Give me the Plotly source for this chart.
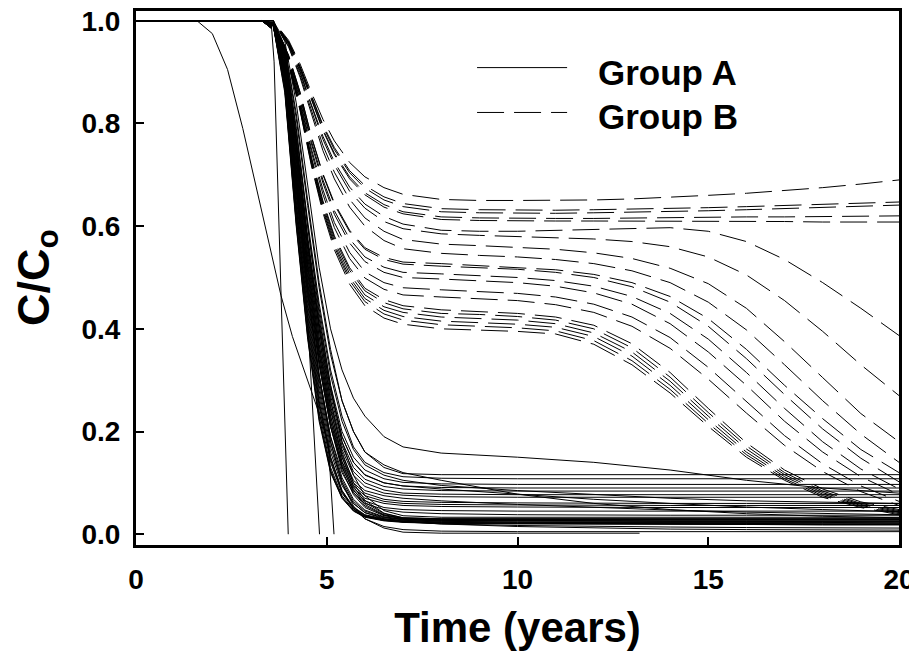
import plotly.graph_objects as go

# time grids (years)
t_a = [0, 2.5, 3.3, 3.6, 3.9, 4.2, 4.5, 4.8, 5.1, 5.4, 5.7, 6.0, 6.5, 7.0, 8, 10, 12, 14, 16, 18, 20]
t_b = [0, 3.3, 3.7, 4.0, 4.3, 4.6, 4.9, 5.2, 5.6, 6.0, 6.5, 7.0, 8, 9, 10, 11, 12, 13, 14, 15, 16, 17, 18, 19, 20]

# Group A breakthrough curves (C/Co), one row per run, on t_a
group_a = [
    [1, 1, 1, 0.99, 0.86, 0.60, 0.38, 0.22, 0.12, 0.07, 0.045, 0.033, 0.026, 0.023, 0.021, 0.02, 0.02, 0.019, 0.019, 0.018, 0.018],
    [1, 1, 1, 0.99, 0.87, 0.62, 0.40, 0.24, 0.13, 0.075, 0.048, 0.035, 0.028, 0.025, 0.023, 0.022, 0.022, 0.021, 0.021, 0.02, 0.02],
    [1, 1, 1, 0.99, 0.89, 0.65, 0.43, 0.26, 0.15, 0.085, 0.053, 0.038, 0.03, 0.027, 0.025, 0.024, 0.024, 0.023, 0.023, 0.023, 0.022],
    [1, 1, 1, 0.995, 0.90, 0.68, 0.46, 0.29, 0.17, 0.10, 0.06, 0.042, 0.032, 0.028, 0.026, 0.026, 0.025, 0.025, 0.025, 0.024, 0.024],
    [1, 1, 1, 0.995, 0.91, 0.70, 0.48, 0.31, 0.19, 0.11, 0.068, 0.047, 0.034, 0.029, 0.027, 0.027, 0.026, 0.026, 0.026, 0.026, 0.026],
    [1, 1, 1, 0.995, 0.92, 0.72, 0.51, 0.34, 0.21, 0.125, 0.077, 0.052, 0.036, 0.03, 0.028, 0.028, 0.028, 0.028, 0.028, 0.028, 0.028],
    [1, 1, 1, 1, 0.93, 0.75, 0.54, 0.37, 0.23, 0.14, 0.087, 0.058, 0.038, 0.031, 0.029, 0.029, 0.029, 0.029, 0.029, 0.029, 0.029],
    [1, 1, 1, 1, 0.94, 0.77, 0.57, 0.40, 0.26, 0.16, 0.10, 0.066, 0.041, 0.032, 0.03, 0.03, 0.03, 0.03, 0.03, 0.03, 0.03],
    [1, 1, 1, 0.99, 0.88, 0.63, 0.41, 0.25, 0.14, 0.08, 0.05, 0.036, 0.028, 0.024, 0.02, 0.017, 0.015, 0.014, 0.013, 0.012, 0.012],
    [1, 1, 1, 0.995, 0.90, 0.67, 0.45, 0.28, 0.16, 0.095, 0.06, 0.042, 0.03, 0.025, 0.02, 0.015, 0.012, 0.01, 0.009, 0.008, 0.008],
    [1, 1, 1, 0.99, 0.87, 0.61, 0.39, 0.23, 0.125, 0.072, 0.046, 0.034, 0.027, 0.024, 0.022, 0.021, 0.021, 0.02, 0.02, 0.02, 0.02],
    [1, 1, 1, 1, 0.95, 0.79, 0.60, 0.43, 0.29, 0.18, 0.115, 0.075, 0.046, 0.036, 0.033, 0.033, 0.033, 0.033, 0.033, 0.033, 0.033],
    [1, 1, 1, 0.995, 0.90, 0.66, 0.44, 0.27, 0.15, 0.085, 0.05, 0.03, 0.015, 0.009, 0.006, 0.005, 0.005, 0.005, 0.005, 0.005, 0.005],
    [1, 1, 1, 0.995, 0.905, 0.69, 0.47, 0.30, 0.18, 0.105, 0.064, 0.045, 0.033, 0.029, 0.027, 0.026, 0.026, 0.026, 0.025, 0.025, 0.025],
    [1, 1, 1, 0.995, 0.925, 0.735, 0.525, 0.355, 0.22, 0.132, 0.082, 0.055, 0.037, 0.031, 0.029, 0.028, 0.028, 0.028, 0.028, 0.028, 0.028],
    [1, 1, 1, 1, 0.935, 0.76, 0.555, 0.385, 0.245, 0.15, 0.093, 0.062, 0.04, 0.032, 0.03, 0.03, 0.03, 0.03, 0.03, 0.03, 0.03],
    [1, 1, 1, 0.99, 0.865, 0.605, 0.385, 0.225, 0.122, 0.071, 0.046, 0.034, 0.027, 0.024, 0.022, 0.021, 0.02, 0.02, 0.019, 0.019, 0.019],
    [1, 1, 1, 0.99, 0.88, 0.64, 0.42, 0.255, 0.145, 0.082, 0.052, 0.037, 0.029, 0.026, 0.024, 0.023, 0.023, 0.022, 0.022, 0.022, 0.022],
    [1, 1, 1, 1, 0.96, 0.84, 0.68, 0.52, 0.40, 0.32, 0.265, 0.23, 0.19, 0.17, 0.158, 0.15, 0.14, 0.125, 0.105, 0.09, 0.08],
    [1, 1, 1, 1, 0.95, 0.81, 0.64, 0.48, 0.35, 0.26, 0.20, 0.16, 0.13, 0.118, 0.116, 0.116, 0.116, 0.116, 0.116, 0.116, 0.116],
    [1, 1, 1, 0.995, 0.94, 0.79, 0.61, 0.45, 0.32, 0.23, 0.17, 0.14, 0.12, 0.112, 0.109, 0.108, 0.108, 0.108, 0.108, 0.108, 0.108],
    [1, 1, 1, 0.995, 0.93, 0.77, 0.58, 0.42, 0.29, 0.20, 0.15, 0.125, 0.108, 0.101, 0.098, 0.097, 0.097, 0.097, 0.097, 0.097, 0.097],
    [1, 1, 1, 0.995, 0.925, 0.76, 0.57, 0.41, 0.28, 0.19, 0.14, 0.116, 0.1, 0.094, 0.091, 0.09, 0.09, 0.09, 0.09, 0.09, 0.09],
    [1, 1, 1, 0.995, 0.92, 0.75, 0.56, 0.40, 0.27, 0.18, 0.13, 0.107, 0.093, 0.088, 0.085, 0.084, 0.084, 0.084, 0.084, 0.084, 0.084],
    [1, 1, 1, 0.995, 0.915, 0.74, 0.545, 0.385, 0.26, 0.172, 0.122, 0.1, 0.086, 0.08, 0.078, 0.077, 0.077, 0.077, 0.077, 0.077, 0.077],
    [1, 1, 1, 0.995, 0.91, 0.73, 0.53, 0.37, 0.25, 0.165, 0.115, 0.093, 0.08, 0.076, 0.073, 0.072, 0.072, 0.072, 0.072, 0.072, 0.072],
    [1, 1, 1, 0.99, 0.90, 0.71, 0.51, 0.35, 0.23, 0.15, 0.10, 0.08, 0.068, 0.064, 0.062, 0.061, 0.06, 0.06, 0.06, 0.06, 0.06],
    [1, 1, 1, 0.99, 0.895, 0.70, 0.50, 0.34, 0.22, 0.142, 0.095, 0.075, 0.064, 0.06, 0.058, 0.057, 0.056, 0.056, 0.056, 0.056, 0.056],
    [1, 1, 1, 0.99, 0.89, 0.69, 0.49, 0.33, 0.21, 0.135, 0.09, 0.07, 0.06, 0.056, 0.054, 0.053, 0.052, 0.052, 0.052, 0.052, 0.052],
    [1, 1, 1, 0.99, 0.89, 0.67, 0.47, 0.31, 0.19, 0.12, 0.08, 0.06, 0.048, 0.043, 0.04, 0.038, 0.037, 0.037, 0.037, 0.037, 0.037],
    [1, 1, 1, 0.99, 0.90, 0.69, 0.49, 0.33, 0.21, 0.13, 0.085, 0.065, 0.052, 0.048, 0.046, 0.045, 0.045, 0.045, 0.045, 0.045, 0.045],
    [1, 1, 1, 1, 0.95, 0.82, 0.65, 0.49, 0.36, 0.26, 0.20, 0.16, 0.135, 0.12, 0.105, 0.078, 0.06, 0.048, 0.04, 0.035, 0.032],
    [1, 1, 1, 0.995, 0.94, 0.78, 0.60, 0.44, 0.31, 0.22, 0.165, 0.135, 0.115, 0.105, 0.095, 0.085, 0.077, 0.07, 0.065, 0.062, 0.06],
    [1, 1, 1, 0.995, 0.93, 0.76, 0.57, 0.41, 0.28, 0.19, 0.14, 0.115, 0.10, 0.094, 0.088, 0.078, 0.068, 0.06, 0.053, 0.048, 0.044],
    [1, 1, 1, 0.99, 0.91, 0.72, 0.52, 0.36, 0.24, 0.155, 0.105, 0.085, 0.075, 0.07, 0.065, 0.058, 0.052, 0.047, 0.043, 0.04, 0.038],
]

# Group A runs that end early / on their own time steps
early_t = [0, 1.6, 2.0, 2.4, 2.8, 3.2, 3.5, 3.8, 4.1, 4.5, 4.8, 5.04, 5.19]
early_c = [1, 1, 0.975, 0.905, 0.79, 0.66, 0.56, 0.465, 0.385, 0.30, 0.235, 0.177, 0]
drop1_t = [0, 3.3, 3.55, 3.62, 3.99]
drop1_c = [1, 1, 0.99, 0.92, 0]
drop2_t = [0, 2.5, 3.3, 3.6, 3.9, 4.2, 4.5, 4.81]
drop2_c = [1, 1, 1, 0.99, 0.88, 0.64, 0.42, 0]
tail_t = [0, 2.5, 3.3, 3.6, 3.9, 4.2, 4.5, 4.8, 5.1, 5.4, 5.7, 6.0, 6.5, 7.0, 8, 10, 12, 13.2]
tail_c = [1, 1, 1, 0.995, 0.91, 0.70, 0.48, 0.31, 0.18, 0.10, 0.055, 0.03, 0.012, 0.004, 0.002, 0.002, 0.002, 0.002]

# Group B breakthrough curves (C/Co) on t_b
group_b = [
    [1, 1, 0.990, 0.962, 0.916, 0.860, 0.808, 0.766, 0.724, 0.696, 0.675, 0.662, 0.652, 0.65, 0.65, 0.65, 0.651, 0.653, 0.656, 0.66, 0.664, 0.669, 0.675, 0.682, 0.69],
    [1, 1, 0.989, 0.959, 0.911, 0.852, 0.797, 0.753, 0.708, 0.679, 0.657, 0.644, 0.634, 0.632, 0.631, 0.631, 0.632, 0.633, 0.634, 0.636, 0.638, 0.64, 0.642, 0.645, 0.647],
    [1, 1, 0.989, 0.959, 0.910, 0.850, 0.794, 0.749, 0.704, 0.674, 0.651, 0.638, 0.628, 0.626, 0.625, 0.625, 0.626, 0.627, 0.628, 0.63, 0.632, 0.634, 0.636, 0.638, 0.641],
    [1, 1, 0.988, 0.958, 0.908, 0.846, 0.788, 0.742, 0.696, 0.665, 0.642, 0.628, 0.618, 0.616, 0.615, 0.615, 0.615, 0.616, 0.616, 0.617, 0.618, 0.618, 0.619, 0.62, 0.62],
    [1, 1, 0.988, 0.957, 0.906, 0.844, 0.786, 0.739, 0.692, 0.661, 0.637, 0.624, 0.613, 0.611, 0.61, 0.61, 0.61, 0.61, 0.61, 0.609, 0.609, 0.609, 0.608, 0.608, 0.608],
    [1, 1, 0.988, 0.955, 0.902, 0.836, 0.775, 0.725, 0.676, 0.643, 0.619, 0.604, 0.592, 0.59, 0.59, 0.592, 0.594, 0.596, 0.597, 0.59, 0.57, 0.535, 0.49, 0.44, 0.387],
    [1, 1, 0.987, 0.954, 0.899, 0.832, 0.769, 0.719, 0.668, 0.635, 0.609, 0.595, 0.585, 0.582, 0.58, 0.578, 0.575, 0.57, 0.56, 0.54, 0.505, 0.455, 0.395, 0.33, 0.27],
    [1, 1, 0.987, 0.951, 0.894, 0.824, 0.757, 0.705, 0.652, 0.616, 0.590, 0.574, 0.565, 0.562, 0.559, 0.555, 0.548, 0.537, 0.518, 0.488, 0.44, 0.375, 0.305, 0.235, 0.18],
    [1, 1, 0.986, 0.949, 0.890, 0.816, 0.747, 0.692, 0.637, 0.600, 0.572, 0.556, 0.547, 0.543, 0.54, 0.535, 0.527, 0.513, 0.49, 0.452, 0.398, 0.33, 0.26, 0.195, 0.14],
    [1, 1, 0.981, 0.933, 0.861, 0.774, 0.702, 0.645, 0.592, 0.558, 0.539, 0.530, 0.527, 0.523, 0.52, 0.515, 0.506, 0.49, 0.463, 0.42, 0.36, 0.29, 0.225, 0.165, 0.12],
    [1, 1, 0.981, 0.932, 0.860, 0.773, 0.700, 0.642, 0.589, 0.555, 0.535, 0.526, 0.522, 0.519, 0.516, 0.51, 0.5, 0.482, 0.452, 0.405, 0.342, 0.272, 0.205, 0.148, 0.102],
    [1, 1, 0.98, 0.93, 0.855, 0.765, 0.69, 0.63, 0.575, 0.54, 0.52, 0.51, 0.507, 0.503, 0.5, 0.494, 0.483, 0.463, 0.43, 0.38, 0.315, 0.245, 0.18, 0.127, 0.088],
    [1, 1, 0.98, 0.929, 0.852, 0.760, 0.684, 0.623, 0.567, 0.531, 0.510, 0.500, 0.497, 0.493, 0.49, 0.483, 0.47, 0.448, 0.41, 0.355, 0.29, 0.22, 0.16, 0.112, 0.077],
    [1, 1, 0.979, 0.926, 0.846, 0.750, 0.671, 0.607, 0.549, 0.511, 0.490, 0.480, 0.476, 0.472, 0.469, 0.462, 0.448, 0.423, 0.383, 0.325, 0.258, 0.192, 0.137, 0.094, 0.064],
    [1, 1, 0.978, 0.924, 0.842, 0.744, 0.662, 0.597, 0.537, 0.499, 0.477, 0.466, 0.462, 0.458, 0.455, 0.447, 0.432, 0.405, 0.362, 0.302, 0.236, 0.173, 0.122, 0.083, 0.056],
    [1, 1, 0.976, 0.916, 0.825, 0.717, 0.626, 0.554, 0.487, 0.445, 0.421, 0.409, 0.40, 0.398, 0.395, 0.39, 0.37, 0.33, 0.275, 0.21, 0.15, 0.105, 0.072, 0.052, 0.038],
    [1, 1, 0.976, 0.917, 0.827, 0.720, 0.631, 0.560, 0.494, 0.453, 0.429, 0.417, 0.408, 0.405, 0.402, 0.396, 0.377, 0.338, 0.282, 0.216, 0.155, 0.108, 0.075, 0.054, 0.04],
    [1, 1, 0.976, 0.918, 0.829, 0.724, 0.635, 0.565, 0.500, 0.459, 0.436, 0.424, 0.415, 0.412, 0.409, 0.403, 0.385, 0.347, 0.29, 0.223, 0.16, 0.112, 0.078, 0.056, 0.042],
    [1, 1, 0.977, 0.919, 0.832, 0.727, 0.640, 0.571, 0.507, 0.466, 0.443, 0.432, 0.423, 0.42, 0.417, 0.41, 0.392, 0.355, 0.298, 0.23, 0.166, 0.116, 0.081, 0.058, 0.044],
    [1, 1, 0.977, 0.920, 0.834, 0.731, 0.645, 0.577, 0.514, 0.474, 0.451, 0.439, 0.43, 0.428, 0.424, 0.417, 0.4, 0.363, 0.306, 0.237, 0.172, 0.12, 0.084, 0.06, 0.046],
    [1, 1, 0.977, 0.921, 0.836, 0.734, 0.649, 0.581, 0.519, 0.479, 0.457, 0.445, 0.437, 0.434, 0.43, 0.423, 0.407, 0.371, 0.315, 0.245, 0.178, 0.125, 0.088, 0.063, 0.048],
]

x_ticks = [0, 5, 10, 15, 20]
y_ticks = [0.0, 0.2, 0.4, 0.6, 0.8, 1.0]

DASH = '27px,10px'

fig = go.Figure()

for c in group_b:
    fig.add_trace(go.Scatter(x=t_b, y=c, mode='lines',
                             line=dict(color='black', width=1, dash=DASH),
                             hoverinfo='skip'))

for c in group_a:
    fig.add_trace(go.Scatter(x=t_a, y=c, mode='lines',
                             line=dict(color='black', width=1),
                             hoverinfo='skip'))

for tt, cc in [(early_t, early_c), (drop1_t, drop1_c), (drop2_t, drop2_c), (tail_t, tail_c)]:
    fig.add_trace(go.Scatter(x=tt, y=cc, mode='lines',
                             line=dict(color='black', width=1),
                             hoverinfo='skip'))

# hand-drawn legend, like the original
fig.add_shape(type='line', xref='paper', yref='paper', x0=0.447, x1=0.565, y0=0.894, y1=0.894,
              line=dict(color='black', width=1))
fig.add_shape(type='line', xref='paper', yref='paper', x0=0.447, x1=0.565, y0=0.810, y1=0.810,
              line=dict(color='black', width=1, dash=DASH))
fig.add_annotation(text='Group A', xref='paper', yref='paper', x=0.603, y=0.885,
                   xanchor='left', yanchor='middle', showarrow=False,
                   font=dict(size=35, weight='bold'))
fig.add_annotation(text='Group B', xref='paper', yref='paper', x=0.603, y=0.802,
                   xanchor='left', yanchor='middle', showarrow=False,
                   font=dict(size=35, weight='bold'))

# y title as a rotated annotation so it sits where the original has it
fig.add_annotation(text='C/C<sub>o</sub>', xref='paper', yref='paper', x=-0.131, y=0.5,
                   xanchor='center', yanchor='middle', textangle=-90, showarrow=False,
                   font=dict(size=45, weight='bold'))

axis_style = dict(showline=True, linewidth=3, linecolor='black', mirror=True,
                  showgrid=False, zeroline=False, ticks='inside', ticklen=8,
                  tickwidth=1.5, tickcolor='black', automargin=False,
                  ticklabeloverflow='allow',
                  tickfont=dict(size=28, weight='bold'))

fig.update_xaxes(range=[0, 20], tickvals=x_ticks, ticklabelstandoff=7,
                 title=dict(text='Time (years)', font=dict(size=42, weight='bold'), standoff=20),
                 **axis_style)
fig.update_yaxes(range=[-0.021, 1.019], tickvals=y_ticks, tickformat='.1f', ticklabelstandoff=7,
                 **axis_style)

# the page body adds an 8px offset, so the figure is 8px smaller than the window
fig.update_layout(
    width=909, height=646,
    margin=dict(l=128, r=18, t=3, b=109),
    plot_bgcolor='white', paper_bgcolor='white',
    showlegend=False,
    font=dict(family='Liberation Sans, Arial, sans-serif', color='black'),
)

fig.write_html('out.html')
